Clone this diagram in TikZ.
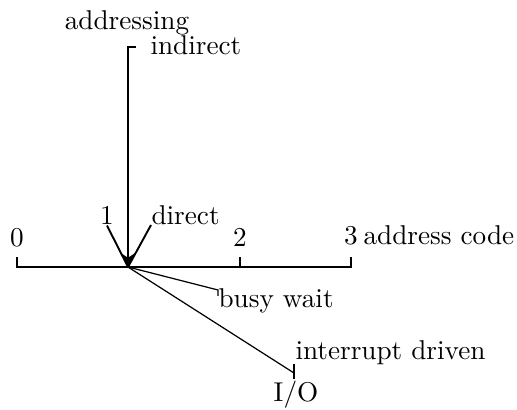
\documentclass[tikz,border=0pt]{standalone}
\usetikzlibrary{arrows.meta}
\begin{document}
\begin{tikzpicture}[x=0.3676pt,y=-0.3676pt,
  axis/.style={line width=1.05pt},
  thin line/.style={line width=0.45pt},
  lbl/.style={inner sep=0pt,anchor=base}]
\useasboundingbox (0,0) rectangle (517,410);
% key points
\coordinate (o) at (128,267);
\coordinate (x0) at (17,267);
\coordinate (x0t) at (17,257);
\coordinate (x2) at (240,267);
\coordinate (x2t) at (240,257);
\coordinate (x3) at (351,267);
\coordinate (x3t) at (351,257);
\coordinate (vt) at (128,47);
\coordinate (vtr) at (136,47);
\coordinate (bw) at (218,290);
\coordinate (bwt) at (218,296);
\coordinate (io) at (294,373);
\coordinate (iot1) at (294,364);
\coordinate (iot2) at (294,379);
% labels
\node[lbl] (addr) at (127,30) {addressing};
\node[lbl,anchor=base west] (ind) at (150,55) {indirect};
\node[lbl] (l0) at (17,247) {0};
\node[lbl] (l1) at (107,225) {1};
\node[lbl,anchor=base west] (dir) at (151,225) {direct};
\node[lbl] (l2) at (240,247) {2};
\node[lbl] (l3) at (351,245) {3};
\node[lbl,anchor=base west] (ac) at (363,245) {address code};
\node[lbl,anchor=base west] (busy) at (218,308) {busy wait};
\node[lbl,anchor=base west] (intr) at (295,360) {interrupt driven};
\node[lbl] (iolbl) at (296,402) {I/O};
% axes
\draw[axis] (x0t) -- (x0) -- (x3) -- (x3t);
\draw[axis] (x2) -- (x2t);
\draw[axis,-{Stealth[length=5pt,width=5pt]}] (vtr) -- (vt) -- (o);
\draw[line width=0.7pt] (l1.south) -- (o);
\draw[line width=0.7pt] (dir.base west) -- (o);
\draw[thin line] (o) -- (bw) -- (bwt);
\draw[thin line] (o) -- (io);
\draw[line width=0.7pt] (iot1) -- (iot2);
\end{tikzpicture}
\end{document}
